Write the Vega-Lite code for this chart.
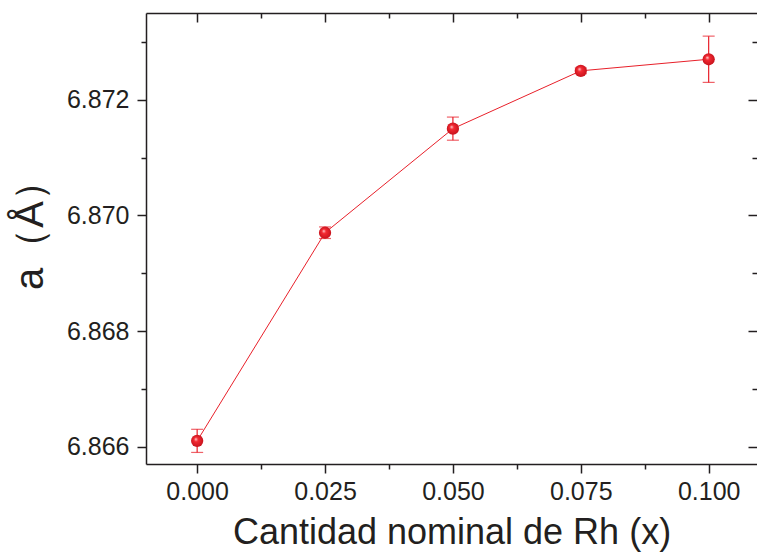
{
  "$schema": "https://vega.github.io/schema/vega-lite/v6.json",
  "width": 611,
  "height": 451,
  "autosize": {"type": "none"},
  "padding": {"left": 146, "top": 13, "right": 0, "bottom": 90},
  "background": "white",
  "config": {
    "view": {"stroke": null},
    "axis": {
      "domainColor": "#231f20",
      "domainWidth": 1.5,
      "tickColor": "#231f20",
      "tickWidth": 1.5,
      "labelFont": "Liberation Sans",
      "labelFontSize": 25,
      "labelColor": "#231f20",
      "titleFont": "Liberation Sans",
      "titleFontWeight": "normal",
      "titleColor": "#231f20",
      "grid": false,
      "labelFlush": false,
      "labelOverlap": false
    }
  },
  "data": {
    "values": [
      {"x": 0.0, "a": 6.8661, "lo": 6.8659, "hi": 6.8663},
      {"x": 0.025, "a": 6.8697, "lo": 6.8696, "hi": 6.8698},
      {"x": 0.05, "a": 6.8715, "lo": 6.8713, "hi": 6.8717},
      {"x": 0.075, "a": 6.8725, "lo": 6.87245, "hi": 6.87255},
      {"x": 0.1, "a": 6.8727, "lo": 6.8723, "hi": 6.8731}
    ]
  },
  "layer": [
    {
      "mark": {"type": "rule", "color": "#e8202a", "strokeWidth": 1.2},
      "encoding": {
        "x": {
          "field": "x", "type": "quantitative",
          "scale": {"domain": [-0.01, 0.10945], "nice": false, "zero": false},
          "axis": {
            "orient": "top", "title": null, "labels": false,
            "values": [0, 0.0125, 0.025, 0.0375, 0.05, 0.0625, 0.075, 0.0875, 0.1],
            "tickSize": {"condition": {"test": "round(datum.value*80) % 2 == 0", "value": -9}, "value": -5}
          }
        },
        "y": {
          "field": "lo", "type": "quantitative",
          "scale": {"domain": [6.8657, 6.8735], "nice": false, "zero": false},
          "axis": {
            "orient": "right", "title": null, "labels": false, "domain": false,
            "values": [6.866, 6.867, 6.868, 6.869, 6.87, 6.871, 6.872, 6.873],
            "tickSize": {"condition": {"test": "round(datum.value*1000) % 2 == 0", "value": -9}, "value": -5}
          }
        },
        "y2": {"field": "hi"}
      }
    },
    {
      "mark": {"type": "tick", "orient": "horizontal", "color": "#e8202a", "size": 12, "thickness": 1.2},
      "encoding": {
        "x": {"field": "x", "type": "quantitative", "axis": null},
        "y": {"field": "lo", "type": "quantitative", "axis": null}
      }
    },
    {
      "mark": {"type": "tick", "orient": "horizontal", "color": "#e8202a", "size": 12, "thickness": 1.2},
      "encoding": {
        "x": {"field": "x", "type": "quantitative", "axis": null},
        "y": {"field": "hi", "type": "quantitative", "axis": null}
      }
    },
    {
      "mark": {"type": "line", "color": "#e8202a", "strokeWidth": 1},
      "encoding": {
        "x": {
          "field": "x", "type": "quantitative",
          "axis": {
            "orient": "bottom", "title": "Cantidad nominal de Rh (x)",
            "titleFontSize": 36, "titlePadding": 11, "labelPadding": 6,
            "values": [0, 0.0125, 0.025, 0.0375, 0.05, 0.0625, 0.075, 0.0875, 0.1],
            "labelExpr": "round(datum.value*80) % 2 == 0 ? format(datum.value, '.3f') : ''",
            "tickSize": {"condition": {"test": "round(datum.value*80) % 2 == 0", "value": 9}, "value": 5}
          }
        },
        "y": {
          "field": "a", "type": "quantitative",
          "axis": {
            "orient": "left", "title": "a（Å）",
            "titleFontSize": 40, "titlePadding": 16, "labelPadding": 8,
            "titleY": 212,
            "values": [6.866, 6.867, 6.868, 6.869, 6.87, 6.871, 6.872, 6.873],
            "labelExpr": "round(datum.value*1000) % 2 == 0 ? format(datum.value, '.3f') : ''",
            "tickSize": {"condition": {"test": "round(datum.value*1000) % 2 == 0", "value": 9}, "value": 5}
          }
        }
      }
    },
    {
      "mark": {
        "type": "point", "shape": "circle", "filled": true, "opacity": 1, "size": 150, "strokeWidth": 0,
        "fill": {
          "gradient": "radial", "x1": 0.38, "y1": 0.35, "r1": 0, "x2": 0.5, "y2": 0.5, "r2": 0.55,
          "stops": [
            {"offset": 0, "color": "#ffe4e4"},
            {"offset": 0.3, "color": "#f52a33"},
            {"offset": 1, "color": "#c2101a"}
          ]
        }
      },
      "encoding": {
        "x": {"field": "x", "type": "quantitative", "axis": null},
        "y": {"field": "a", "type": "quantitative", "axis": null}
      }
    }
  ],
  "resolve": {"axis": {"x": "independent", "y": "independent"}}
}
